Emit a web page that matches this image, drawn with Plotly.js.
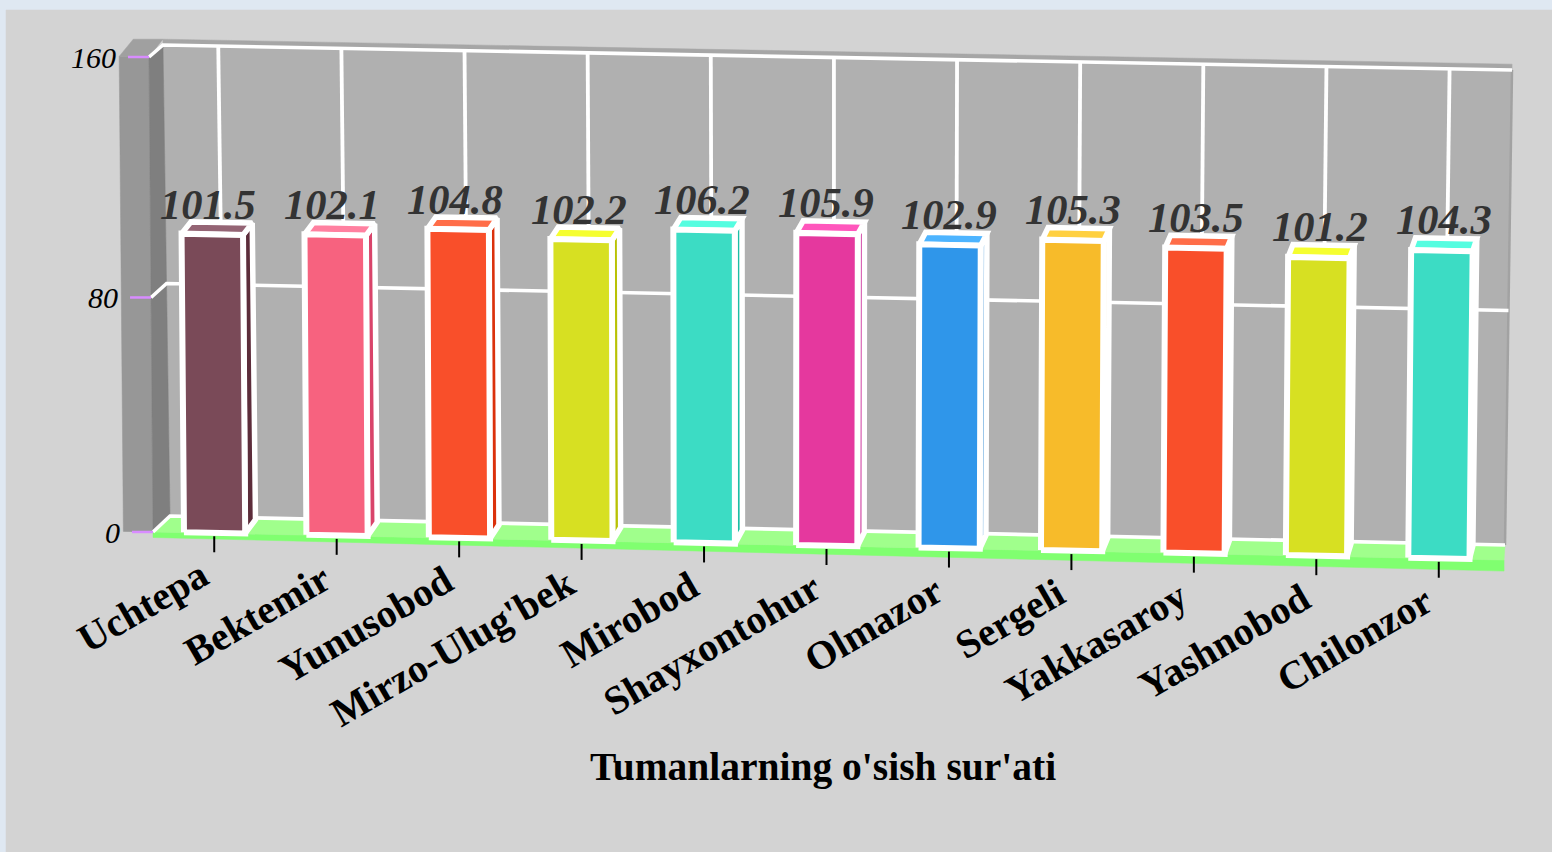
<!DOCTYPE html>
<html><head><meta charset="utf-8">
<script src="https://cdn.plot.ly/plotly-3.0.1.min.js"></script>
<style>html,body{margin:0;padding:0;background:#dfe8f2;overflow:hidden}#chart{width:1552px;height:852px}</style>
</head><body><div id="chart"></div>
<script>
// ---- data ----
const categories = ["Uchtepa","Bektemir","Yunusobod","Mirzo-Ulug'bek","Mirobod","Shayxontohur","Olmazor","Sergeli","Yakkasaroy","Yashnobod","Chilonzor"];
const growth = [101.5,102.1,104.8,102.2,106.2,105.9,102.9,105.3,103.5,101.2,104.3];
const yTicks = [0,80,160];
const axisTitle = "Tumanlarning o'sish sur'ati";
const frontColors = ["#7a4a58","#f7627f","#f94f2a","#d7e022","#3cdcc4","#e5389e","#2f96ea","#f7bb2a","#f94f2a","#d7e022","#3cdcc4"];
const topColors   = ["#946474","#ff80a0","#ff6d48","#f5fe30","#55fde0","#ff56bc","#4db4ff","#ffd040","#ff6d48","#f5fe30","#55fde0"];
const sideColors  = ["#5c2c3a","#d9446a","#db310c","#b9c204","#1ebea6","#c71a90","#1178cc","#d99d0c","#db310c","#b9c204","#1ebea6"];

// ---- projection of the 3D box onto the screen ----
const yMax = 160, n = categories.length;
const FRONT = {tl:[149,57], tr:[1505,84], br:[1500,560], bl:[153,532]};
const BACK  = {tl:[163,45], tr:[1512,70], br:[1505,545], bl:[170,516]};
function quad(q,u,v){
  const f=k=>(q.bl[k]*(1-u)+q.br[k]*u)*(1-v)+(q.tl[k]*(1-u)+q.tr[k]*u)*v;
  return [f(0),f(1)];
}
function proj(u,val,d,dxScale){
  let v = val/yMax; v = v-0.025*v*(1-v);
  const a=quad(FRONT,u,v), b=quad(BACK,u,v);
  return [a[0]+(b[0]-a[0])*d*(dxScale===undefined?1:dxScale), a[1]+(b[1]-a[1])*d];
}
const traces=[], annotations=[];
function poly(pts,fill,lineColor,lineWidth){
  traces.push({type:'scatter',mode:'lines',x:pts.concat([pts[0]]).map(p=>p[0]),y:pts.concat([pts[0]]).map(p=>p[1]),
    fill:'toself',fillcolor:fill,line:{color:lineColor||fill,width:lineWidth===undefined?0.5:lineWidth,simplify:false},
    hoverinfo:'skip',showlegend:false});
}
function line(pts,color,width){
  traces.push({type:'scatter',mode:'lines',x:pts.map(p=>p[0]),y:pts.map(p=>p[1]),
    line:{color:color,width:width,simplify:false},hoverinfo:'skip',showlegend:false});
}
function text(x,y,t,size,opts){
  annotations.push(Object.assign({x:x,y:y,xref:'x',yref:'y',text:t,showarrow:false,
    font:{family:'"Liberation Serif",serif',size:size,color:'#000'}},opts));
}

// panel
poly([[6,10],[1552,10],[1552,852],[6,852]],'#d3d3d3');
// back wall
poly([proj(0,yMax,1),proj(1,yMax,1),proj(1,0,1),proj(0,0,1)],'#b0b0b0');
// right wall edge, top wall strip
line([proj(1,yMax,1),proj(1,0,1)],'#a2a2a2',2.5);
const wallLeft=-0.022, topVal=yMax*1.012;
poly([proj(0,topVal,1),proj(1,topVal,1),proj(1,yMax,1),proj(0,yMax,1)],'#a6a6a6');
// left wall
poly([proj(wallLeft,yMax,0),proj(0,yMax,0),proj(0,0,0),proj(wallLeft,0,0)],'#979797');
poly([proj(0,yMax,0),proj(0,yMax,1),proj(0,0,1),proj(0,0,0)],'#7f7f7f');
poly([proj(wallLeft,yMax,0),[proj(wallLeft,topVal,1)[0],proj(0,topVal,1)[1]],proj(0,topVal,1),proj(0,yMax,0)],'#a0a0a0');
// vertical grid
for(let i=0;i<n;i++){
  const u=(i+0.5)/n-0.0045+0.0037*i/(n-1);
  line([proj(u,yMax,1),proj(u,0,1)],'#ffffff',3.8);
}
// floor
const floorEnd=1.003;
const fp=(u)=>{const p=proj(u,0,0);return [p[0],p[1]+5.5+5.5*u];};
poly([proj(0,0,0),proj(floorEnd,0,0),fp(floorEnd),fp(0)],'#80ff70');
poly([proj(0,0,1),proj(1,0,1),proj(floorEnd,0,0),proj(0,0,0)],'#a0ff8c');
// horizontal grid + pink ticks + y labels
yTicks.forEach(t=>{
  const pts=[proj(0,t,0),proj(0,t,1),proj(1,t,1)];
  line(pts,'#ffffff',3.6);
  const a=proj(0,t,0), w=proj(wallLeft,t,0);
  line([[a[0]-21,a[1]],a],'#d88cff',2.5);
  text(w[0]-1,a[1],String(t),30,{xanchor:'right',yanchor:'middle',font:{family:'"Liberation Serif",serif',size:30,color:'#000',style:'italic'}});
});
// x ticks
for(let i=0;i<n;i++){
  const u=(i+0.5)/n, p=proj(u,0,0);
  line([[p[0],p[1]+3],[p[0],p[1]+19]],'#000000',2);
}
// bars
const bw=0.25, d0=0.03, d1=0.9, dxs=0.73;
for(let i=0;i<n;i++){
  const l=(i+bw)/n, r=(i+1-bw)/n, h=growth[i];
  const P=(u,val,d)=>proj(u,val,d,dxs);
  poly([P(r,0,d0),P(r,0,d1),P(r,h,d1),P(r,h,d0)],sideColors[i],'#ffffff',5.5);
  poly([P(l,h,d0),P(r,h,d0),P(r,h,d1),P(l,h,d1)],topColors[i],'#ffffff',5.5);
  poly([P(l,0,d0),P(r,0,d0),P(r,h,d0),P(l,h,d0)],frontColors[i],'#ffffff',6);
}
// data labels
for(let i=0;i<n;i++){
  const u=(i+0.5)/n, p=proj(u,growth[i],d1,dxs);
  text(p[0]-14+12*u,p[1]+7,growth[i].toFixed(1),42.5,{xanchor:'center',yanchor:'bottom',
    font:{family:'"Liberation Serif",serif',size:42.5,color:'#333333',style:'italic',weight:'bold'}});
}
// category labels
for(let i=0;i<n;i++){
  const u=(i+0.5)/n, p=proj(u,0,0);
  text(p[0]+4,p[1]+16,categories[i],40,{xanchor:'right',yanchor:'top',textangle:-30,
    font:{family:'"Liberation Serif",serif',size:40,color:'#000',weight:'bold'}});
}
// axis title
text(823,767,axisTitle,39.5,{xanchor:'center',yanchor:'middle',font:{family:'"Liberation Serif",serif',size:39.5,color:'#000',weight:'bold'}});

Plotly.newPlot('chart',traces,{
  width:1552,height:852,margin:{l:0,r:0,t:0,b:0},showlegend:false,
  paper_bgcolor:'#dfe8f2',plot_bgcolor:'#dfe8f2',
  xaxis:{range:[0,1552],visible:false,fixedrange:true},
  yaxis:{range:[852,0],visible:false,fixedrange:true},
  annotations:annotations
},{displayModeBar:false,staticPlot:true});
</script></body></html>
